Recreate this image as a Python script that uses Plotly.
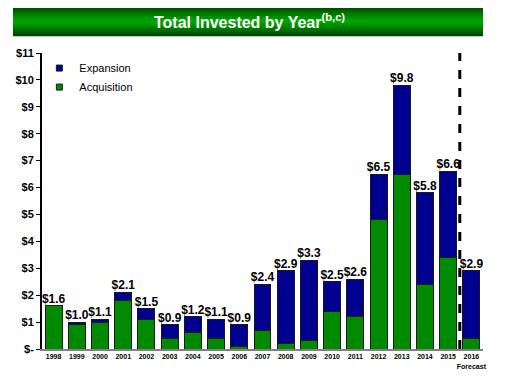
import plotly.graph_objects as go

years = ["1998", "1999", "2000", "2001", "2002", "2003", "2004", "2005", "2006", "2007",
         "2008", "2009", "2010", "2011", "2012", "2013", "2014", "2015", "2016"]
tick_labels = years[:-1] + ["2016<br>Forecast"]
acquisition = [1.6, 0.9, 1.0, 1.8, 1.1, 0.4, 0.6, 0.4, 0.1, 0.7,
               0.2, 0.3, 1.4, 1.2, 4.8, 6.5, 2.4, 3.4, 0.4]
totals = [1.6, 1.0, 1.1, 2.1, 1.5, 0.9, 1.2, 1.1, 0.9, 2.4,
          2.9, 3.3, 2.5, 2.6, 6.5, 9.8, 5.8, 6.6, 2.9]
expansion = [round(t - a, 2) for t, a in zip(totals, acquisition)]
y_ticks = list(range(0, 12))
y_tick_text = ["$-"] + [f"${v}" for v in y_ticks[1:]]

GREEN = "#008a00"
BLUE = "#000090"
x = list(range(len(years)))

fig = go.Figure()
fig.add_trace(go.Bar(x=x, y=acquisition, name="Acquisition", showlegend=False,
                     marker=dict(color=GREEN, line=dict(color="#1a1a1a", width=1))))
fig.add_trace(go.Bar(x=x, y=expansion, name="Expansion", showlegend=False,
                     marker=dict(color=BLUE, line=dict(color="#1a1a1a", width=1))))
fig.add_trace(go.Scatter(x=x, y=totals, mode="text", text=[f"<b>${t:.1f}</b>" for t in totals],
                         textposition="top center", showlegend=False, hoverinfo="skip",
                         textfont=dict(family="Liberation Sans, Arial", size=12, color="black")))
# legend entries with small square keys
fig.add_trace(go.Scatter(x=[None], y=[None], mode="markers", name="Acquisition",
                         marker=dict(symbol="square", size=6, color=GREEN,
                                     line=dict(color="#1a1a1a", width=1))))
fig.add_trace(go.Scatter(x=[None], y=[None], mode="markers", name="Expansion",
                         marker=dict(symbol="square", size=6, color=BLUE,
                                     line=dict(color="#1a1a1a", width=1))))

# title bar gradient
shapes = []
n = 16
x0p, x1p = -0.0658, 1.0
y0p, y1p = 1.0563, 1.1576
h = (y1p - y0p) / n
for i in range(n):
    t = (i + 0.5) / n
    k = 1 - abs(2 * t - 1)  # 0 at edges, 1 at middle
    g = int(0x38 + (0xa8 - 0x38) * (k ** 0.8))
    top = y0p + h * (i + 1) + (h if i < n - 1 else 0)
    shapes.append(dict(type="rect", xref="paper", yref="paper",
                       x0=x0p, x1=x1p, y0=y0p + h * i, y1=top,
                       fillcolor=f"rgb(0,{g},0)", line=dict(width=0), layer="below"))
# forecast divider
shapes.append(dict(type="line", xref="x", yref="y", x0=17.5, x1=17.5, y0=0, y1=11,
                   line=dict(color="black", width=3, dash="dash")))

fig.update_layout(
    width=511, height=383,
    margin=dict(l=34, r=36, t=45, b=42, autoexpand=False),
    paper_bgcolor="white", plot_bgcolor="white",
    barmode="stack", bargap=0.27,
    font=dict(family="Liberation Sans, Arial", color="black"),
    shapes=shapes,
    annotations=[dict(text="<b>Total Invested by Year<sup>(b,c)</sup></b>", xref="paper", yref="paper",
                      x=0.47, y=1.107, showarrow=False, xanchor="center", yanchor="middle",
                      font=dict(size=16, color="white", family="Liberation Sans, Arial"))],
    legend=dict(x=-0.006, y=0.998, xanchor="left", yanchor="top", traceorder="reversed",
                bgcolor="rgba(0,0,0,0)", font=dict(size=11, color="black"),
                itemwidth=30, tracegroupgap=0),
    showlegend=True,
)
fig.update_xaxes(tickmode="array", tickvals=x, ticktext=[f"<b>{t}</b>" for t in tick_labels],
                 tickfont=dict(size=7), tickangle=0, automargin=False,
                 range=[-0.5, 18.5], showline=True, linecolor="#808080",
                 linewidth=2, ticks="", showgrid=False, zeroline=False)
fig.update_yaxes(range=[0, 11], tickmode="array", tickvals=y_ticks, automargin=False,
                 ticktext=[f"<b>{t}</b>" for t in y_tick_text], tickfont=dict(size=11),
                 showline=True, linecolor="black", linewidth=2, ticks="outside", ticklen=4,
                 tickcolor="black", showgrid=False, zeroline=False)

fig.write_html("out.html")
